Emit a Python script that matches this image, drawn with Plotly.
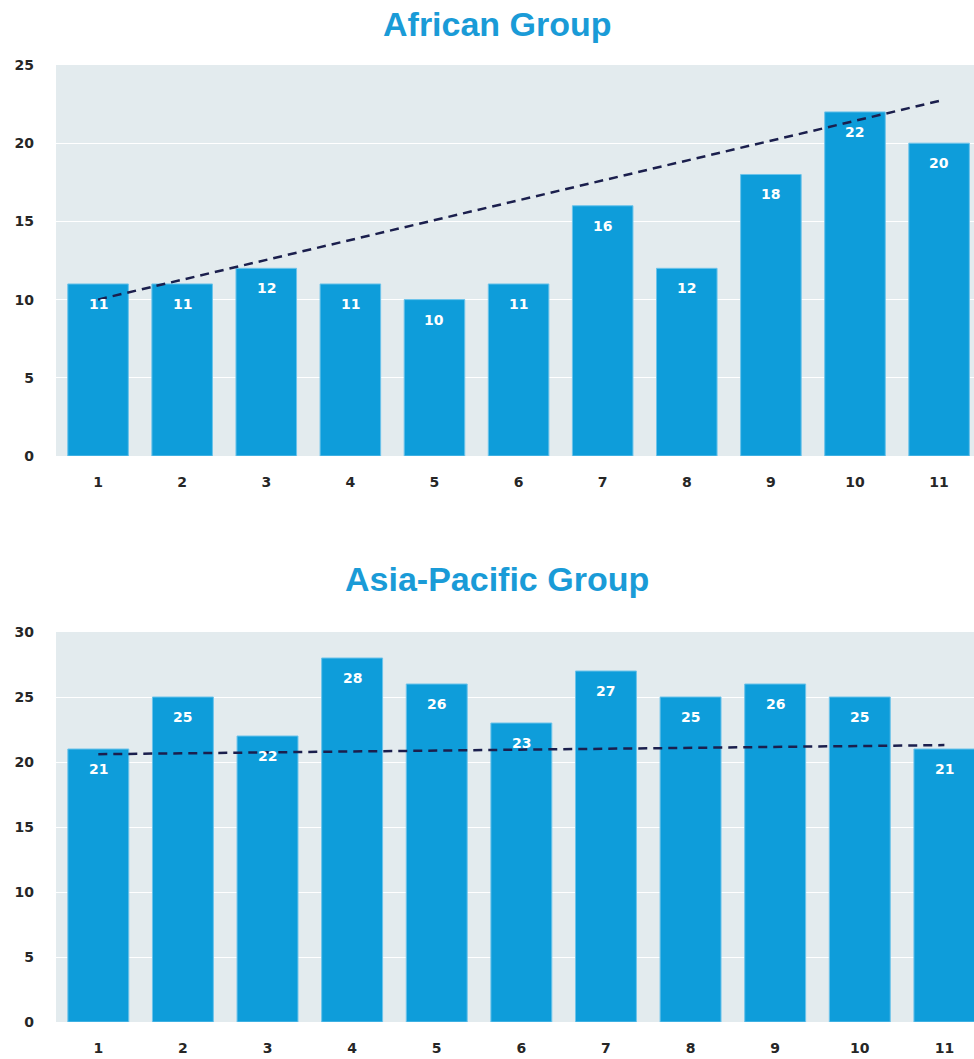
import plotly.graph_objects as go
from plotly.subplots import make_subplots

# Data
periods = [1, 2, 3, 4, 5, 6, 7, 8, 9, 10, 11]
african_values = [11, 11, 12, 11, 10, 11, 16, 12, 18, 22, 20]
asia_pacific_values = [21, 25, 22, 28, 26, 23, 27, 25, 26, 25, 21]

# Trend line end points (value at first and last period)
african_trend = [10.0, 22.7]
asia_pacific_trend = [20.6, 21.3]

group_titles = ["African Group", "Asia-Pacific Group"]

BAR_BLUE = "#0e9dda"
BAR_EDGE = "#6cc3ea"
TITLE_BLUE = "#1a9bd7"
PLOT_BG = "#e3ebee"
TREND = "#1b1f4d"
TICK_COLOR = "#262626"

W, H = 974, 1059
LEFT = 56

fig = make_subplots(rows=2, cols=1)

panels = [
    (african_values, african_trend, 1, [0, 25], 5, [0.5, 11.415]),
    (asia_pacific_values, asia_pacific_trend, 2, [0, 30], 5, [0.5, 11.35]),
]

for values, trend, row, yrange, dtick, xrange_ in panels:
    fig.add_trace(
        go.Bar(
            x=periods,
            y=values,
            marker=dict(color=BAR_BLUE, line=dict(color=BAR_EDGE, width=1)),
            width=0.72,
            hoverinfo="x+y",
            showlegend=False,
        ),
        row=row, col=1,
    )
    fig.add_trace(
        go.Scatter(
            x=[periods[0], periods[-1]],
            y=trend,
            mode="lines",
            line=dict(color=TREND, width=2.5, dash="9px,6px"),
            hoverinfo="skip",
            showlegend=False,
        ),
        row=row, col=1,
    )
    xa = "x" if row == 1 else "x2"
    ya = "y" if row == 1 else "y2"
    for p, v in zip(periods, values):
        fig.add_annotation(
            x=p, y=v, xref=xa, yref=ya,
            text=str(v), showarrow=False,
            yanchor="top", yshift=-10,
            font=dict(family="DejaVu Sans", size=14, color="white", weight="bold"),
        )
    fig.update_xaxes(
        range=xrange_, tickvals=periods, ticktext=[str(p) for p in periods],
        showgrid=False, zeroline=False, showline=False, automargin=False,
        tickfont=dict(family="DejaVu Sans", size=14, color=TICK_COLOR, weight="bold"),
        ticklabelstandoff=16, fixedrange=True,
        row=row, col=1,
    )
    fig.update_yaxes(
        range=yrange, dtick=dtick, showgrid=True, gridcolor="white", gridwidth=1,
        zeroline=False, showline=False, automargin=False,
        tickfont=dict(family="DejaVu Sans", size=14, color=TICK_COLOR, weight="bold"),
        ticklabelstandoff=21, fixedrange=True,
        row=row, col=1,
    )

# Plot area placement
fig.update_layout(
    yaxis=dict(domain=[1 - 456 / H, 1 - 65 / H]),
    yaxis2=dict(domain=[1 - 1022 / H, 1 - 632 / H]),
    xaxis=dict(domain=[0, 1]),
    xaxis2=dict(domain=[0, 1]),
)

# Panel titles
for title, xpix, ypix in zip(group_titles, [497, 497], [24, 579]):
    fig.add_annotation(
        x=(xpix - LEFT) / (W - LEFT), y=1 - ypix / H, xref="paper", yref="paper",
        xanchor="center", yanchor="middle",
        text=title, showarrow=False,
        font=dict(family="Liberation Sans", size=34, color=TITLE_BLUE, weight="bold"),
    )

fig.update_layout(
    width=W, height=H,
    margin=dict(l=LEFT, r=0, t=0, b=0),
    paper_bgcolor="white",
    plot_bgcolor=PLOT_BG,
    bargap=0.28,
)

fig.write_html("out.html")
